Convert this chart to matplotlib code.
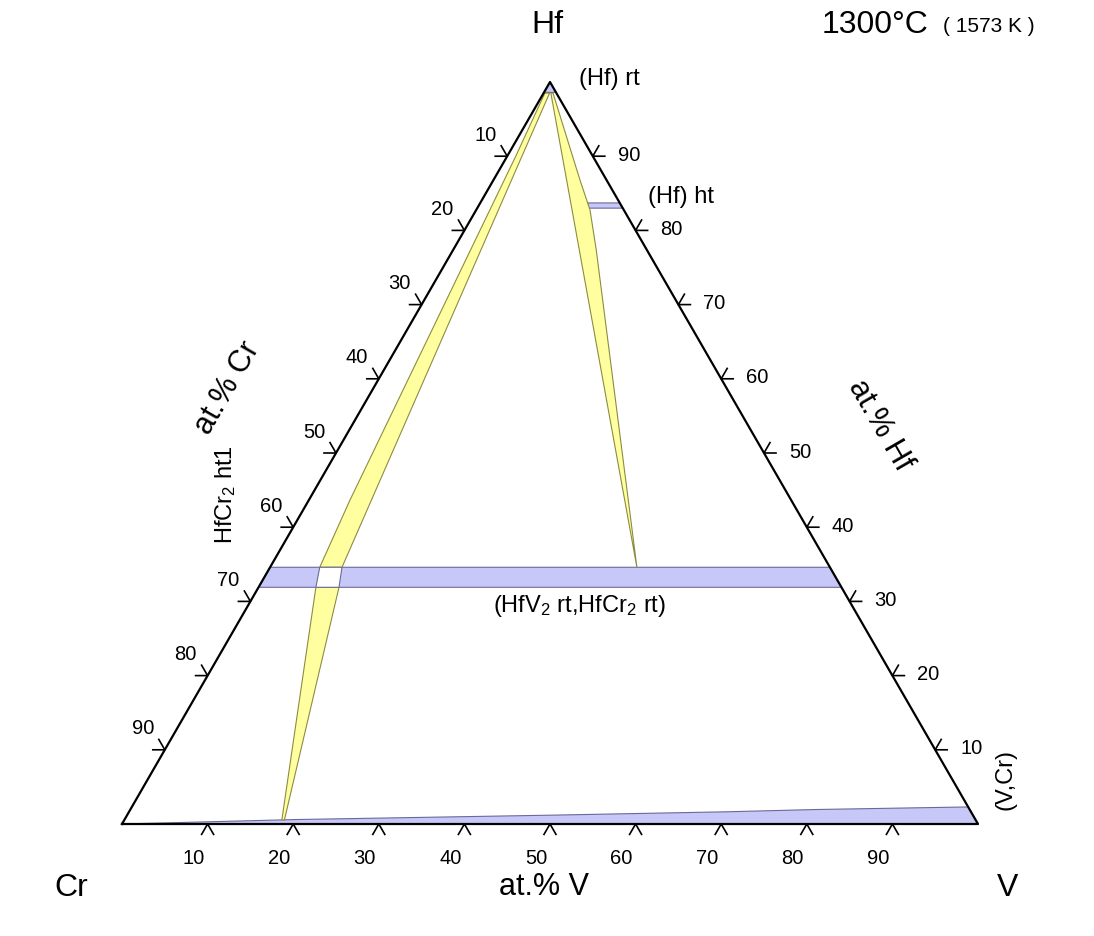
import matplotlib
matplotlib.use("Agg")
import matplotlib.pyplot as plt
from matplotlib.patches import Polygon
import numpy as np

plt.rcParams['font.family'] = ['Liberation Sans', 'DejaVu Sans']
plt.rcParams['mathtext.fontset'] = 'custom'
plt.rcParams['mathtext.rm'] = 'Liberation Sans'
plt.rcParams['mathtext.it'] = 'Liberation Sans'

# ---------------- data (compositions: at.% V, at.% Hf) ----------------
tick_values = [10, 20, 30, 40, 50, 60, 70, 80, 90]

hf_rt_V = [0.0, 1.4, 0.0]
hf_rt_Hf = [98.6, 98.6, 100.0]

hf_ht_V = [12.6, 16.3, 17.0, 12.9]
hf_ht_Hf = [83.7, 83.7, 83.0, 83.0]

laves_V = [0.0, 65.4, 68.1, 0.0]
laves_Hf = [34.6, 34.6, 31.9, 31.9]

hole_V = [5.8, 8.4, 9.4, 6.7]
hole_Hf = [34.6, 34.6, 31.9, 31.9]

vcr_V = [0.0, 20.0, 50.0, 70.0, 80.0, 97.7, 100.0]
vcr_Hf = [0.0, 0.6, 1.2, 1.65, 1.95, 2.3, 0.0]

yelA_up_V = [0.15, 1.0, 4.8, 5.8, 8.4, 0.7]
yelA_up_Hf = [98.5, 90.0, 43.7, 34.6, 34.6, 98.5]

yelA_lo_V = [6.7, 9.4, 18.7, 18.4]
yelA_lo_Hf = [31.9, 31.9, 0.55, 0.55]

yelB_V = [0.85, 42.85, 16.7, 13.3, 10.1, 1.1]
yelB_Hf = [98.5, 34.6, 77.4, 82.75, 86.8, 98.5]

# ---------------- geometry ----------------
W, H = 1094, 936
CR = np.array([122.0, 824.0])
VV = np.array([978.0, 824.0])
HF = np.array([550.0, 82.0])


def tp(v, hf):
    v = np.asarray(v, float) / 100.0
    hf = np.asarray(hf, float) / 100.0
    x = CR[0] + (VV[0] - CR[0]) * v + (HF[0] - CR[0]) * hf
    y = CR[1] + (HF[1] - CR[1]) * hf
    return np.column_stack([np.atleast_1d(x), np.atleast_1d(y)])


fig = plt.figure(figsize=(W / 100, H / 100), dpi=100)
ax = fig.add_axes([0, 0, 1, 1])
ax.set_xlim(0, W)
ax.set_ylim(H, 0)
ax.axis('off')

BLUE = '#c8c8f8'
BLUE_E = '#6a6a9a'
YEL = '#ffffa0'
YEL_E = '#8c8c40'


def poly(v, hf, fc, ec, lw=0.8, z=2):
    ax.add_patch(Polygon(tp(v, hf), closed=True, fc=fc, ec=ec, lw=lw, zorder=z))


poly(vcr_V, vcr_Hf, BLUE, BLUE_E)
poly(laves_V, laves_Hf, BLUE, BLUE_E)
poly(hole_V, hole_Hf, 'white', BLUE_E, z=3)
poly(hf_rt_V, hf_rt_Hf, BLUE, BLUE_E)
poly(hf_ht_V, hf_ht_Hf, BLUE, BLUE_E)
poly(yelA_up_V, yelA_up_Hf, YEL, YEL_E)
poly(yelA_lo_V, yelA_lo_Hf, YEL, YEL_E)
poly(yelB_V, yelB_Hf, YEL, YEL_E)

# triangle
tri = np.array([CR, VV, HF, CR])
ax.plot(tri[:, 0], tri[:, 1], color='black', lw=1.6, zorder=5)

L = 12
s60 = np.sqrt(3) / 2
tfs = 14.5
for t in tick_values:
    # bottom (at.% V)
    p = tp(t, 0)[0]
    ax.plot([p[0] - 0.5 * L, p[0], p[0] + 0.5 * L], [p[1] + s60 * L, p[1], p[1] + s60 * L],
            color='black', lw=1.2, zorder=5)
    ax.text(p[0] - 14, p[1] + 34, str(t), ha='center', va='center', fontsize=tfs)
    # left (at.% Cr): Cr = t -> Hf = 100 - t
    p = tp(0, 100 - t)[0]
    ax.plot([p[0] - L, p[0], p[0] - 0.5 * L], [p[1], p[1], p[1] - s60 * L],
            color='black', lw=1.2, zorder=5)
    ax.text(p[0] - 22, p[1] - 21, str(t), ha='center', va='center', fontsize=tfs)
    # right (at.% Hf)
    p = tp(100 - t, t)[0]
    ax.plot([p[0] + L, p[0], p[0] + 0.5 * L], [p[1], p[1], p[1] - s60 * L],
            color='black', lw=1.2, zorder=5)
    ax.text(p[0] + 36, p[1] - 1, str(t), ha='center', va='center', fontsize=tfs)

# labels
ax.text(547, 25, 'Hf', ha='center', va='center', fontsize=23)
ax.text(71, 888, 'Cr', ha='center', va='center', fontsize=23)
ax.text(1008, 888, 'V', ha='center', va='center', fontsize=23)
ax.text(544, 887, 'at.% V', ha='center', va='center', fontsize=22)
ax.text(228, 388, 'at.% Cr', ha='center', va='center', fontsize=22, rotation=60,
        rotation_mode='anchor')
ax.text(880, 425, 'at.% Hf', ha='center', va='center', fontsize=22, rotation=-60,
        rotation_mode='anchor')
ax.text(875, 25, '1300°C', ha='center', va='center', fontsize=23)
ax.text(989, 27, '( 1573 K )', ha='center', va='center', fontsize=15)
ax.text(609, 79, '(Hf) rt', ha='center', va='center', fontsize=17)
ax.text(681, 197, '(Hf) ht', ha='center', va='center', fontsize=17)
ax.text(580, 606, r'(HfV$_2$ rt,HfCr$_2$ rt)', ha='center', va='center', fontsize=17)
ax.text(226, 495, r'HfCr$_2$ ht1', ha='center', va='center', fontsize=17, rotation=90)
ax.text(1005, 780, '(V,Cr)', ha='center', va='center', fontsize=17, rotation=90)

fig.savefig('out.png', dpi=100)
